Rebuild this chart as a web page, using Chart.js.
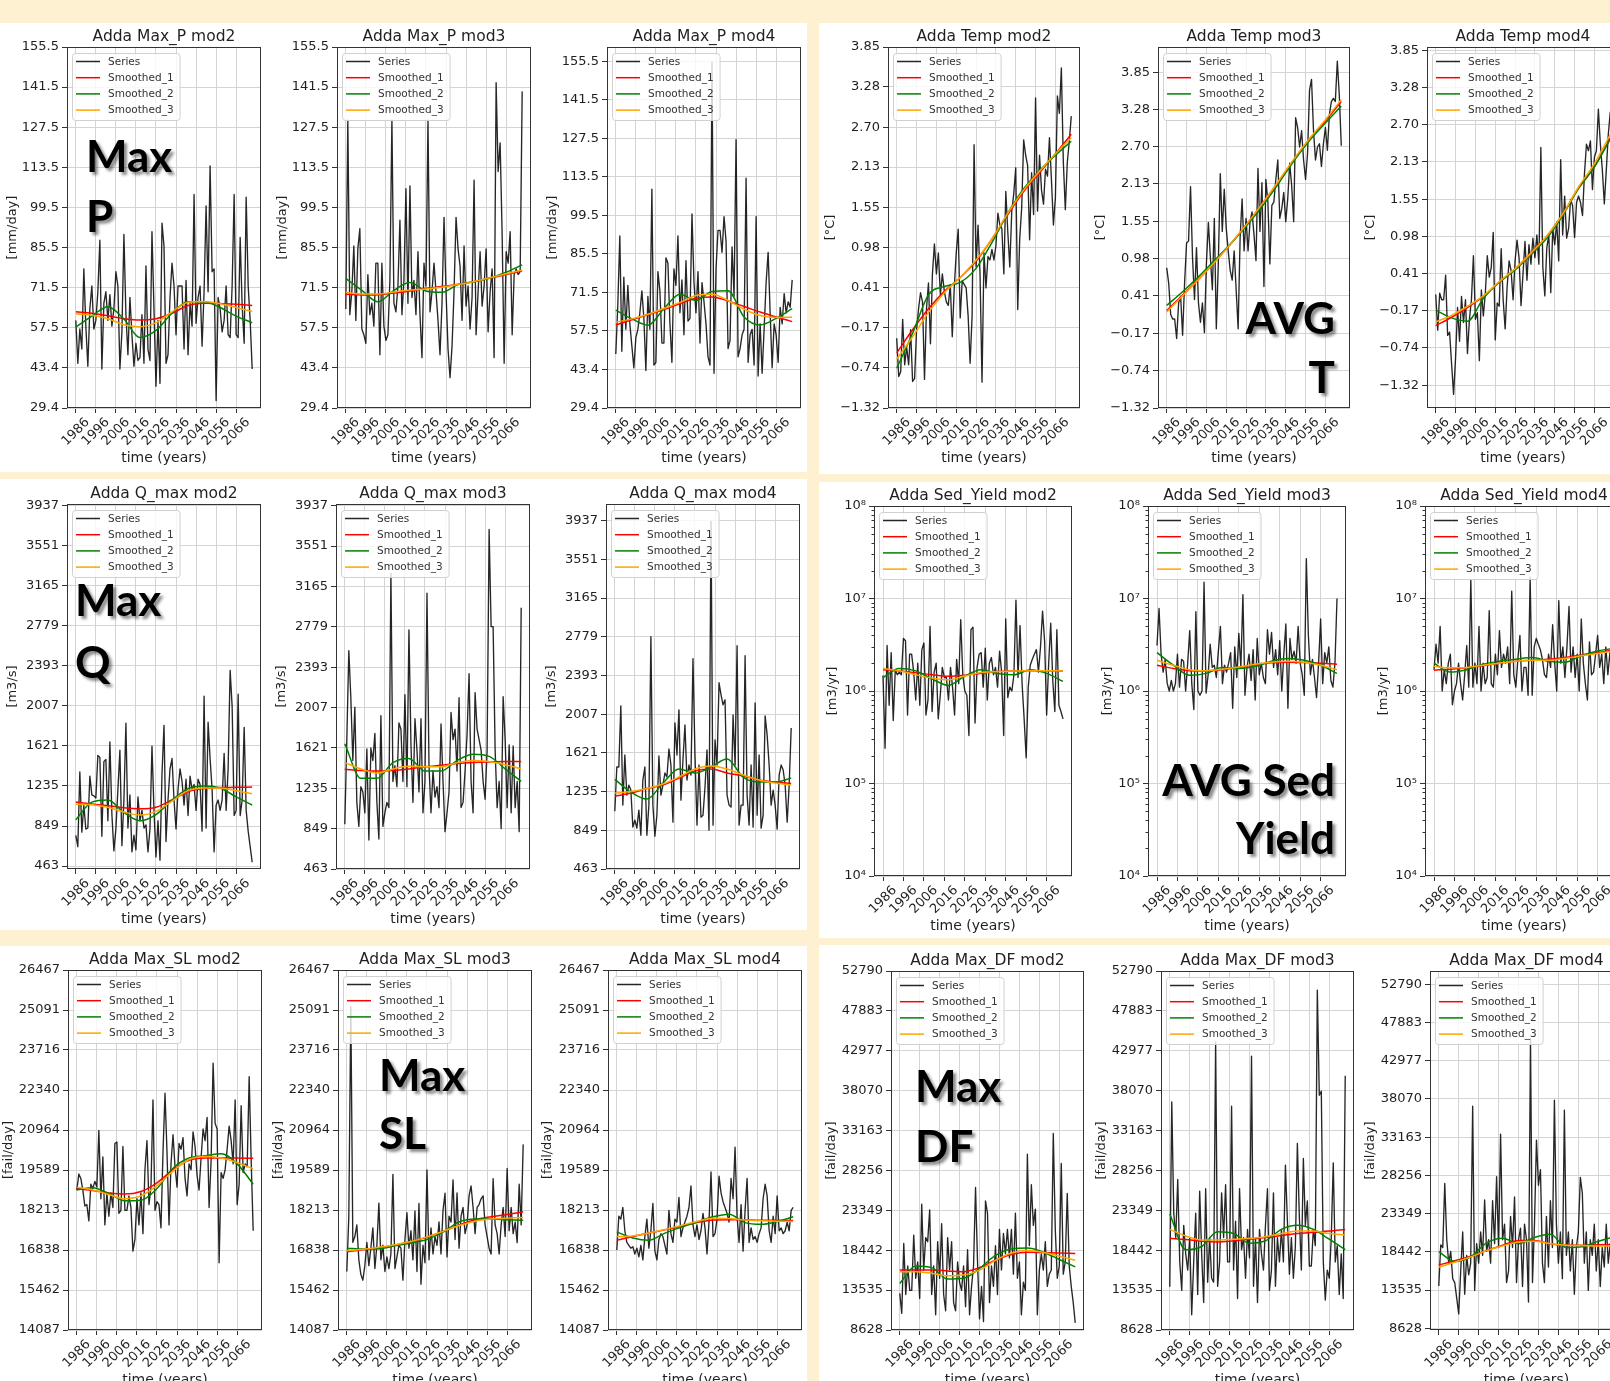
<!DOCTYPE html>
<html>
<head>
<meta charset="utf-8">
<script src="https://cdn.jsdelivr.net/npm/chart.js@4.4.1/dist/chart.umd.min.js"></script>
<style>
  html, body { margin: 0; padding: 0; }
  body { width: 1610px; height: 1381px; position: relative; overflow: hidden; background: #fdf1d2; font-family: "DejaVu Sans", sans-serif; }
  .sheet { position: absolute; background: #fff; }
  canvas { position: absolute; }
  .big { position: absolute; z-index: 5; font-family: Lato, "Open Sans", sans-serif; font-weight: 700; font-size: 44px; color: #000; text-shadow: 3px 3px 3px rgba(0,0,0,0.45); white-space: nowrap; }
</style>
</head>
<body>
<div class="sheet" style="left:0;top:23px;width:807px;height:449px"></div>
<div class="sheet" style="left:0;top:479px;width:807px;height:451px"></div>
<div class="sheet" style="left:0;top:946px;width:807px;height:435px"></div>
<div class="sheet" style="left:819px;top:23px;width:791px;height:451px"></div>
<div class="sheet" style="left:819px;top:482px;width:791px;height:456px"></div>
<div class="sheet" style="left:819px;top:945px;width:791px;height:436px"></div>

<div class="big" style="left:86px;top:125px;line-height:60px">Max<br>P</div>
<div class="big" style="right:275px;top:288px;line-height:59px;text-align:right">AVG<br>T</div>
<div class="big" style="left:75px;top:568px;line-height:62px">Max<br>Q</div>
<div class="big" style="right:275px;top:750px;line-height:58px;text-align:right">AVG Sed<br>Yield</div>
<div class="big" style="left:379px;top:1045px;line-height:58px">Max<br>SL</div>
<div class="big" style="left:915px;top:1055px;line-height:60px">Max<br>DF</div>

<script>
// ---- data ----
const START_YEAR = 1986;
const SMOOTH_YEARS = [1986, 1994, 2002, 2010, 2018, 2026, 2034, 2042, 2050, 2058, 2066, 2074];
const X_TICKS = [1986, 1996, 2006, 2016, 2026, 2036, 2046, 2056, 2066];
const LEGEND_LABELS = ['Series', 'Smoothed_1', 'Smoothed_2', 'Smoothed_3'];

const P_TICKS = [29.4, 43.4, 57.5, 71.5, 85.5, 99.5, 113.5, 127.5, 141.5, 155.5];
const P_TICK_LABELS = ['29.4', '43.4', '57.5', '71.5', '85.5', '99.5', '113.5', '127.5', '141.5', '155.5'];
const T_TICKS = [-1.32, -0.74, -0.17, 0.41, 0.98, 1.55, 2.13, 2.70, 3.28, 3.85];
const T_TICK_LABELS = ['\u22121.32', '\u22120.74', '\u22120.17', '0.41', '0.98', '1.55', '2.13', '2.70', '3.28', '3.85'];
const Q_TICKS = [463, 849, 1235, 1621, 2007, 2393, 2779, 3165, 3551, 3937];
const SED_TICKS = [1e4, 1e5, 1e6, 1e7, 1e8];
const SED_TICK_LABELS = ['10\u2074', '10\u2075', '10\u2076', '10\u2077', '10\u2078'];
const SL_TICKS = [14087, 15462, 16838, 18213, 19589, 20964, 22340, 23716, 25091, 26467];
const DF_TICKS = [8628, 13535, 18442, 23349, 28256, 33163, 38070, 42977, 47883, 52790];

// Max_P
const P2 = [60, 45, 57, 50, 78, 58, 44, 64, 72, 57,
  60, 70, 88, 43, 66, 70, 60, 69, 58, 64,
  77, 72, 43, 56, 90, 62, 48, 68, 55, 44,
  52, 46, 47, 62, 45, 79, 50, 46, 91, 64,
  37, 60, 38, 94, 86, 45, 48, 68, 80, 72,
  55, 72, 72, 72, 50, 74, 48, 66, 58, 104,
  59, 68, 72, 51, 70, 100, 70, 114, 77, 78,
  32, 68, 64, 56, 60, 72, 55, 54, 72, 104,
  55, 54, 89, 65, 52, 103, 72, 60, 43];
const P2_S1 = [63, 62.5, 61.6, 60.6, 60.1, 60.6, 62.5, 65.2, 66, 65.9, 65.6, 65.2];
const P2_S2 = [57.7, 61.5, 64.8, 60.5, 54, 56.5, 62.5, 66.5, 66.5, 64.5, 61.5, 59.2];
const P2_S3 = [62.3, 61.8, 60.6, 58.5, 57.8, 59.2, 63, 66.3, 66.6, 65.8, 64.5, 63.1];

const P3 = [64, 130, 62, 70, 86, 60, 85, 92, 57, 55,
  52, 76, 62, 66, 58, 80, 80, 48, 80, 58,
  53, 55, 74, 130, 66, 63, 72, 95, 62, 74,
  106, 66, 107, 68, 74, 62, 84, 62, 47, 80,
  72, 130, 63, 70, 80, 70, 60, 48, 66, 96,
  70, 50, 40, 51, 70, 96, 85, 79, 60, 86,
  65, 72, 57, 68, 109, 55, 70, 84, 65, 72,
  85, 56, 70, 78, 47, 143, 112, 122, 90, 45,
  84, 80, 91, 55, 76, 78, 76, 77, 140];
const P3_S1 = [69.1, 68.9, 69, 69.6, 70.3, 71.2, 71.8, 72.6, 73.6, 74.8, 76, 77.3];
const P3_S2 = [74.7, 70.5, 66.5, 70.5, 73.2, 70.3, 69.8, 72.5, 73.5, 74.8, 76.8, 79.4];
const P3_S3 = [69.8, 69.2, 69.2, 69.9, 70.6, 71, 71.6, 72.5, 73.6, 74.9, 76.3, 77.6];

const P4 = [49, 67, 92, 50, 77, 58, 74, 60, 52, 44,
  55, 58, 64, 72, 62, 43, 70, 58, 109, 45,
  46, 79, 72, 53, 53, 84, 82, 60, 46, 80,
  74, 92, 64, 76, 56, 83, 61, 62, 100, 75,
  64, 79, 53, 75, 68, 60, 48, 45, 155, 42,
  80, 94, 94, 86, 99, 90, 51, 54, 88, 70,
  127, 48, 51, 56, 58, 113, 46, 56, 58, 45,
  99, 41, 60, 42, 58, 75, 86, 64, 44, 60,
  56, 46, 66, 60, 71, 64, 68, 66, 76];
const P4_S1 = [59.6, 61.5, 63.3, 65.2, 67.3, 69.3, 69.8, 68.3, 66.3, 64.3, 62.5, 60.8];
const P4_S2 = [65, 61.8, 59.5, 65.5, 70.8, 68.5, 71.8, 72, 62.5, 59.6, 62, 65.5];
const P4_S3 = [60.6, 61.8, 63.5, 65.6, 67.8, 70.3, 70.8, 68.5, 65.3, 63, 62.3, 62.4];

// Temp
const T2 = [-0.32, -0.87, -0.8, -0.05, -0.7, -0.45, -0.7, -0.2, -0.94, -0.9,
  -0.2, 0.1, 0.33, 0.2, -0.91, 0.1, 0.47, -0.4, 0.6, 1.03,
  0.6, 0.9, 0.3, 0.6, 0.35, 0.2, 0.15, 0.45, -0.3, 0.4,
  0.9, 1.24, -0.03, 0.5, 0.45, 0.4, 0.0, -0.68, 0.0, 2.45,
  0.7, 1.3, 0.6, -0.95, 0.9, 0.4, 0.85, 0.8, 0.95, 0.8,
  1.0, 1.47, 1.3, 1.25, 0.6, 1.78, 1.2, 0.7, 1.5, 1.75,
  2.12, 0.09, 1.1, 1.55, 2.52, 2.3, 2.15, 1.09, 2.05, 1.45,
  3.12, 1.5, 2.3, 1.8, 1.6, 2.1, 2.0, 2.55, 1.95, 1.3,
  1.7, 3.15, 2.9, 3.55, 2.2, 1.52, 2.2, 2.5, 2.86];
const T2_S1 = [-0.53, -0.2, 0.1, 0.35, 0.55, 0.78, 1.1, 1.45, 1.78, 2.05, 2.32, 2.6];
const T2_S2 = [-0.75, -0.25, 0.3, 0.42, 0.48, 0.68, 1.05, 1.47, 1.82, 2.08, 2.3, 2.5];
const T2_S3 = [-0.62, -0.3, 0.05, 0.33, 0.55, 0.8, 1.1, 1.47, 1.8, 2.07, 2.32, 2.55];

const T3 = [0.84, 0.6, 0.12, 0.05, 0.05, -0.25, 0.3, 0.4, -0.2, 0.6,
  1.22, 1.25, 2.09, 1.0, 0.35, 1.15, 0.3, 0.0, 0.3, -0.16,
  0.9, 1.54, 1.0, 0.5, 1.6, -0.1, 0.9, 2.29, 1.4, 2.05,
  1.45, 1.1, 0.8, 0.65, 1.1, 0.5, -0.1, 1.3, 1.9, 1.1,
  1.6, 1.1, 1.55, 1.7, 1.35, 0.95, 2.37, 1.4, 2.15, 0.55,
  2.2, 1.85, 0.9, 1.8, 1.85, 2.2, 2.5, 1.6, 1.75, 2.0,
  1.55, 1.9, 2.45, 2.1, 1.55, 3.15, 3.0, 2.7, 2.95, 2.5,
  2.2, 2.6, 3.58, 3.74, 2.95, 2.5, 2.7, 2.75, 2.4, 2.75,
  3.0, 2.65, 3.2, 3.4, 3.45, 3.4, 4.02, 3.5, 2.72];
const T3_S1 = [0.18, 0.42, 0.66, 0.92, 1.2, 1.5, 1.82, 2.15, 2.5, 2.82, 3.1, 3.4];
const T3_S2 = [0.26, 0.47, 0.7, 0.95, 1.2, 1.48, 1.78, 2.12, 2.48, 2.8, 3.07, 3.33];
const T3_S3 = [0.16, 0.41, 0.66, 0.92, 1.2, 1.5, 1.82, 2.16, 2.51, 2.83, 3.12, 3.43];

const T4 = [0.08, -0.47, 0.1, 0.0, 0.0, 0.38, -0.55, -0.5, -0.99, -1.46,
  -0.9, -0.12, -0.64, 0.05, -0.35, 0.0, -0.83, -0.3, 0.0, 0.68,
  -0.3, -0.2, -0.94, 0.15, -0.25, 0.1, 0.68, 0.35, 0.5, 1.04,
  -0.62, -0.05, -0.1, 0.79, 0.0, -0.45, 0.2, 0.6, 0.45, 0.0,
  0.6, 0.92, 0.65, -0.09, 0.4, 0.9, 0.3, 0.85, 0.55, 0.95,
  0.65, 1.0, 0.55, 2.35, 0.5, 0.06, 0.8, 1.0, 0.11, 1.1,
  0.85, 1.2, 0.6, 2.16, 1.0, 1.6, 0.95, 1.1, 1.55, 1.45,
  0.96, 1.5, 1.6, 1.5, 1.3, 1.95, 2.4, 2.3, 2.45, 1.7,
  2.2, 2.3, 2.94, 2.4, 2.0, 1.48, 2.0, 2.55, 2.9];
const T4_S1 = [-0.4, -0.27, -0.12, 0.05, 0.27, 0.47, 0.72, 0.98, 1.32, 1.72, 2.05, 2.5];
const T4_S2 = [-0.16, -0.28, -0.33, 0.02, 0.27, 0.46, 0.7, 0.95, 1.3, 1.72, 2.05, 2.48];
const T4_S3 = [-0.34, -0.24, -0.1, 0.06, 0.28, 0.48, 0.72, 0.98, 1.32, 1.74, 2.1, 2.55];

// Q_max
const Q2 = [760, 650, 1370, 790, 1050, 820, 830, 1330, 1150, 1140,
  1120, 1530, 1510, 750, 1470, 1490, 900, 1660, 960, 610,
  820, 1200, 1580, 660, 1100, 1840, 830, 1150, 600, 760,
  620, 1130, 900, 1000, 830, 860, 600, 820, 1620, 1000,
  550, 900, 520, 1350, 1820, 700, 1100, 1400, 1500, 1100,
  820, 1200, 1400, 1280, 1050, 1300, 950, 1330, 1200, 1250,
  1000, 1300, 1250, 800, 2100, 830, 1850, 1500, 1200, 600,
  1050, 1100, 1000, 1100, 1550, 1000, 1400, 2350, 2000, 950,
  1000, 2120, 950, 1100, 1800, 1000, 800, 650, 500];
const Q2_S1 = [1080, 1062, 1045, 1025, 1015, 1030, 1100, 1180, 1210, 1220, 1222, 1225];
const Q2_S2 = [910, 1080, 1100, 980, 900, 960, 1100, 1210, 1235, 1215, 1130, 1050];
const Q2_S3 = [1060, 1055, 1030, 985, 955, 990, 1090, 1190, 1215, 1215, 1190, 1160];

const Q3 = [890, 1700, 2550, 2100, 1500, 2010, 1100, 870, 1250, 1200,
  1000, 1610, 740, 1620, 1500, 1760, 1100, 750, 1930, 870,
  1000, 1100, 1050, 3290, 1300, 1450, 1250, 1860, 1800, 1300,
  2130, 1250, 2750, 1650, 1100, 1900, 1600, 1200, 1900, 1000,
  1300, 3100, 1450, 1000, 1400, 1150, 1250, 1050, 1850, 1300,
  820, 1000, 1200, 1960, 1700, 1800, 1400, 2100, 1050, 1100,
  1400, 1750, 2330, 1300, 1000, 2150, 1800, 1700, 1600, 1300,
  1130, 1600, 3710, 2780, 2780, 1600, 1050, 1300, 850, 2110,
  1700, 1050, 1650, 1000, 1640, 1050, 1300, 820, 2960];
const Q3_S1 = [1416, 1405, 1400, 1405, 1420, 1440, 1455, 1472, 1482, 1487, 1490, 1490];
const Q3_S2 = [1660, 1330, 1330, 1480, 1520, 1400, 1400, 1500, 1560, 1540, 1420, 1300];
const Q3_S3 = [1480, 1420, 1380, 1420, 1445, 1440, 1440, 1480, 1500, 1490, 1460, 1420];

const Q4 = [1040, 1480, 1480, 2090, 1100, 1600, 1200, 1300, 1250, 880,
  950, 870, 1050, 800, 1350, 1480, 800, 1100, 2780, 1100,
  790, 1000, 1590, 1200, 1300, 1420, 1380, 1660, 1500, 930,
  1920, 1600, 2050, 1150, 1550, 1900, 1350, 1500, 1400, 2560,
  1600, 900, 1500, 980, 1000, 1280, 1650, 850, 3930, 900,
  1750, 1500, 2320, 2200, 2100, 2150, 1200, 1100, 1080, 2000,
  1500, 2690, 900, 1100, 1100, 2590, 1200, 900, 1500, 880,
  2120, 1000, 1600, 870, 1000, 1990, 1800, 1500, 1100, 1250,
  1100, 860, 1400, 1500, 1450, 1300, 930, 1300, 1870];
const Q4_S1 = [1190, 1220, 1265, 1300, 1370, 1440, 1460, 1420, 1390, 1350, 1330, 1315];
const Q4_S2 = [1357, 1230, 1160, 1320, 1460, 1420, 1480, 1560, 1380, 1330, 1330, 1370];
const Q4_S3 = [1220, 1235, 1265, 1310, 1380, 1460, 1490, 1460, 1400, 1350, 1320, 1300];

// Sed_Yield (log axis)
const SED2 = [1.47e6, 2.4e5, 3.1e6, 7e5, 2.6e6, 4.8e5, 1.7e6, 1.5e6, 1.6e6, 1.5e6,
  3.7e6, 3.5e6, 5.5e5, 2.5e6, 2.5e6, 1.6e6, 8e5, 2.0e6, 7e5, 2.8e6,
  3.3e6, 5.5e5, 8e5, 5e6, 6e5, 1.6e6, 2e6, 5e5, 9e5, 1.8e6,
  1.4e6, 1.4e6, 8e5, 1.8e6, 1.1e6, 5.5e5, 2.2e6, 1.2e6, 5.9e6, 1.5e6,
  1.0e6, 9e5, 3.3e5, 4.6e6, 4.9e6, 4.5e5, 1.8e6, 2.5e6, 2.6e6, 1.1e6,
  2.9e6, 8e5, 2.0e6, 2.3e6, 1.5e6, 1.8e6, 1.1e6, 2.7e6, 1.6e6, 3.3e5,
  6e6, 8.5e5, 1.1e6, 1.0e6, 1.5e6, 9.6e6, 1.4e6, 5.1e6, 1.2e6, 5e5,
  1.9e5, 1.1e6, 1.9e6, 2.2e6, 2.5e6, 2.8e6, 1.6e6, 3e6, 7.3e6, 3.5e6,
  5.5e5, 2.0e6, 5.4e6, 1.3e6, 6e5, 4.6e6, 7e5, 6e5, 5e5];
const SED2_S1 = [1.7e6, 1.65e6, 1.58e6, 1.5e6, 1.44e6, 1.48e6, 1.56e6, 1.62e6, 1.65e6, 1.66e6, 1.66e6, 1.65e6];
const SED2_S2 = [1.4e6, 1.75e6, 1.65e6, 1.35e6, 1.15e6, 1.45e6, 1.7e6, 1.55e6, 1.5e6, 1.7e6, 1.55e6, 1.27e6];
const SED2_S3 = [1.75e6, 1.65e6, 1.5e6, 1.38e6, 1.32e6, 1.45e6, 1.58e6, 1.62e6, 1.65e6, 1.66e6, 1.66e6, 1.65e6];

const SED3 = [3.1e6, 7.8e6, 2.5e6, 1.6e6, 2.2e6, 1.2e6, 1.0e6, 1.3e6, 1.0e6, 1.2e6,
  2.5e6, 1.1e6, 2.2e6, 2.1e6, 1.0e6, 2.0e6, 4.5e6, 1.2e6, 6.3e5, 7.2e6,
  1.0e6, 9e5, 1.0e6, 1.5e7, 9.5e5, 1.5e6, 3.2e6, 1.8e6, 1.9e6, 1.4e6,
  2.7e6, 5e6, 1.2e6, 1.9e6, 1.6e6, 2.0e6, 2.6e6, 6.5e5, 3e6, 1.4e6,
  4.2e6, 1.8e6, 1.1e7, 9e5, 1.8e6, 2.5e6, 1.3e6, 2.8e6, 8e5, 3.7e6,
  1.5e6, 2.0e6, 1.4e6, 1.2e6, 4.6e6, 2.5e6, 4.3e6, 1.8e6, 2.8e6, 1.5e6,
  3.5e6, 1.0e6, 2.5e6, 5.3e6, 6.5e5, 3.7e6, 2.2e6, 2.7e6, 2.0e6, 5.0e6,
  2.0e6, 1.5e6, 9e5, 2.7e7, 4e6, 1.5e6, 2.2e6, 1.4e6, 8.5e5, 2.0e6,
  6e6, 1.2e6, 2.6e6, 2.0e6, 3e6, 1.3e6, 1.1e6, 2.0e6, 1.0e7];
const SED3_S1 = [1.9e6, 1.75e6, 1.66e6, 1.65e6, 1.7e6, 1.8e6, 1.92e6, 2.02e6, 2.05e6, 2.03e6, 2e6, 1.95e6];
const SED3_S2 = [2.6e6, 1.9e6, 1.48e6, 1.55e6, 1.8e6, 1.75e6, 1.85e6, 2.1e6, 2.25e6, 2.15e6, 1.9e6, 1.55e6];
const SED3_S3 = [2.15e6, 1.9e6, 1.7e6, 1.66e6, 1.72e6, 1.82e6, 1.95e6, 2.05e6, 2.1e6, 2.05e6, 1.9e6, 1.7e6];

const SED4 = [1.7e6, 3.2e6, 2.0e6, 5.0e6, 1.0e6, 1.7e6, 1.2e6, 2.0e6, 2.5e6, 7.1e5,
  1.0e6, 1.2e6, 2.0e6, 1.2e6, 8e5, 1.5e6, 3.1e6, 1.1e6, 1.6e7, 1.1e6,
  2.0e6, 1.2e6, 5.0e6, 1.0e6, 2.0e6, 1.2e6, 1.4e6, 7.4e6, 1.2e6, 1.1e6,
  2.5e6, 1.5e6, 4.5e6, 1.8e6, 2.5e6, 2.0e6, 3e6, 1.2e6, 1.2e7, 1.5e6,
  1.1e6, 2.2e6, 4e6, 1.0e6, 1.8e6, 1.8e6, 9e5, 1.7e7, 9e5, 3e6,
  3.7e6, 3.2e6, 2.8e6, 2.2e6, 1.5e6, 1.4e6, 2.5e6, 1.8e6, 5.2e6, 2e6,
  1.0e6, 9.5e6, 2e6, 3e6, 1.4e6, 3e6, 8.2e6, 1.6e6, 3e6, 1.4e6,
  2.5e6, 1.0e6, 6e6, 2e6, 1.2e6, 8e5, 3.4e6, 1.5e6, 1.6e6, 2.5e6,
  4e6, 1.8e6, 2.5e6, 1.2e6, 3e6, 1.5e6, 2.6e6, 1.4e6, 2.2e6];
const SED4_S1 = [1.68e6, 1.72e6, 1.78e6, 1.88e6, 2.0e6, 2.1e6, 2.15e6, 2.2e6, 2.3e6, 2.45e6, 2.6e6, 2.8e6];
const SED4_S2 = [2.0e6, 1.6e6, 1.7e6, 1.95e6, 2.1e6, 2.2e6, 2.3e6, 2.1e6, 2.05e6, 2.4e6, 2.7e6, 2.9e6];
const SED4_S3 = [1.85e6, 1.78e6, 1.8e6, 1.9e6, 2.0e6, 2.1e6, 2.15e6, 2.15e6, 2.25e6, 2.4e6, 2.55e6, 2.7e6];

// Max_SL
const SL2 = [18900, 19450, 19300, 18900, 18350, 18400, 17840, 19100, 18950, 19200,
  19000, 20950, 18600, 20040, 17700, 18800, 18000, 18800, 18300, 20500,
  20550, 18100, 18200, 20400, 18200, 18200, 18700, 18300, 16800, 17200,
  18600, 17700, 18800, 17400, 19600, 20600, 18400, 19000, 22000, 18200,
  18500, 18400, 17600, 20200, 22230, 20200, 17700, 19800, 20800, 19700,
  19000, 20500, 20300, 20700, 19300, 18700, 19800, 19600, 20900, 20400,
  19400, 18900, 20000, 21000, 20600, 21400, 18300, 19900, 23260, 21200,
  21000, 16400, 19500, 19300, 19600, 20300, 21100, 20600, 19800, 22000,
  18400, 19100, 21800, 19500, 19800, 19700, 22800, 19900, 17500];
const SL2_S1 = [18950, 18880, 18800, 18760, 18850, 19150, 19600, 19920, 20000, 20000, 20000, 19990];
const SL2_S2 = [18900, 18980, 18780, 18530, 18550, 18950, 19650, 20000, 20080, 20150, 19800, 19100];
const SL2_S3 = [19000, 18900, 18750, 18600, 18700, 19050, 19550, 19950, 20050, 20000, 19850, 19630];

const SL3 = [16100, 18000, 25200, 17100, 17300, 17700, 16500, 16000, 15800, 16300,
  17100, 16300, 16900, 17600, 16200, 17000, 18450, 16500, 17000, 16100,
  16600, 16200, 16700, 19440, 16200, 16600, 17000, 16900, 15800, 17200,
  18120, 16900, 17500, 16500, 18180, 16100, 18440, 15660, 17000, 16400,
  19590, 16500, 17600, 16700, 17300, 17000, 17800, 16700, 18200, 18790,
  16600, 18000, 17800, 19250, 17200, 18800, 16900, 18000, 18300, 17400,
  17700, 18700, 19040, 18300, 17400, 18300, 18400, 18600, 18700, 17700,
  17300, 16900, 16700, 19290, 17700, 17400, 16700, 17700, 18300, 17300,
  19640, 17500, 18300, 17400, 17800, 17090, 19100, 17700, 20470];
const SL3_S1 = [16780, 16850, 16920, 17010, 17120, 17280, 17480, 17700, 17880, 17980, 18060, 18150];
const SL3_S2 = [16900, 16870, 16880, 16980, 17080, 17200, 17450, 17800, 17900, 17900, 17880, 17860];
const SL3_S3 = [16820, 16860, 16930, 17020, 17130, 17290, 17480, 17680, 17830, 17900, 17930, 17960];

const SL4 = [16840, 18000, 17900, 18300, 17500, 17100, 17000, 16900, 16950, 16700,
  16900, 16600, 17000, 16500, 17300, 17900, 16900, 17500, 18440, 16800,
  16500, 17200, 17400, 17300, 17000, 16700, 18200, 17400, 17100, 17900,
  17800, 18650, 17300, 17600, 17800, 18000, 18300, 19040, 17700, 17300,
  17700, 17200, 17500, 18100, 17600, 16700, 17800, 19520, 17300, 17400,
  17900, 19380, 18800, 18500, 18300, 18100, 17800, 19300, 18600, 20370,
  18000, 17100, 18400, 16800, 18200, 19300, 17100, 17600, 17200, 17300,
  17100, 17400, 17600, 18600, 19100, 18700, 17500, 17100, 18000, 17400,
  18700, 17500, 17600, 17400, 17500, 17800, 17500, 18200, 18300];
const SL4_S1 = [17170, 17300, 17420, 17530, 17650, 17780, 17870, 17880, 17870, 17860, 17860, 17850];
const SL4_S2 = [17460, 17250, 17170, 17420, 17620, 17800, 17980, 18070, 17780, 17720, 17820, 17980];
const SL4_S3 = [17300, 17320, 17420, 17540, 17680, 17820, 17930, 17920, 17870, 17840, 17830, 17820];

// Max_DF
const DF2 = [13130, 10680, 19280, 13000, 16500, 13500, 13500, 20300, 15000, 17000,
  12500, 24110, 16000, 20000, 19500, 23400, 13000, 16500, 10500, 19500,
  15000, 21700, 13000, 11000, 20000, 16000, 19500, 12000, 11000, 17000,
  14500, 13500, 16500, 11500, 18500, 10500, 14000, 16500, 26160, 17000,
  10000, 14000, 9660, 24520, 23000, 12000, 16500, 14000, 19000, 13000,
  21000, 16000, 20500, 18000, 21000, 17500, 21000, 15500, 23000, 15000,
  17000, 10500, 14500, 13500, 30260, 19000, 26500, 21500, 23500, 10500,
  16000, 18000, 16000, 19500, 14000, 15500, 16000, 32800, 21000, 15000,
  16500, 29110, 15500, 17000, 25430, 16500, 14000, 12000, 9500];
const DF2_S1 = [16000, 16000, 16000, 15900, 15800, 16300, 17200, 17900, 18200, 18150, 18100, 18050];
const DF2_S2 = [14360, 16500, 16300, 14900, 15000, 16200, 17800, 18600, 18700, 18200, 17300, 16400];
const DF2_S3 = [15800, 15800, 15600, 15300, 15400, 16000, 17200, 18100, 18400, 18200, 17700, 17200];

const DF3 = [13950, 36690, 23000, 20000, 27150, 17000, 13500, 21500, 18000, 16000,
  20000, 10500, 17000, 23000, 13000, 25710, 18000, 12000, 26000, 14500,
  20000, 15000, 14500, 44060, 14000, 17000, 25500, 20000, 26500, 17000,
  17000, 36160, 16000, 22000, 12500, 26000, 18500, 20000, 15000, 21000,
  17500, 42300, 14000, 20000, 12000, 21000, 18000, 16000, 21500, 26000,
  13500, 16000, 25500, 14000, 20000, 17000, 21000, 17000, 28910, 22000,
  15500, 20000, 15000, 19000, 31570, 22500, 16000, 29730, 21500, 24500,
  16500, 16500, 21000, 19000, 50420, 37500, 38000, 17000, 12310, 16000,
  15000, 20000, 29190, 17000, 19000, 13000, 18000, 12500, 39890];
const DF3_S1 = [19900, 19750, 19550, 19450, 19600, 19800, 20000, 20250, 20500, 20650, 20800, 21000];
const DF3_S2 = [22900, 18500, 18900, 20700, 20500, 19300, 19600, 21000, 21500, 21000, 19800, 18500];
const DF3_S3 = [21000, 20200, 19700, 19700, 19800, 19900, 20100, 20500, 20800, 20800, 20500, 20300];

const DF4 = [14070, 19330, 19000, 27230, 20000, 17000, 18500, 15000, 14500, 12500,
  10480, 16000, 21000, 13000, 18000, 15500, 17000, 37150, 13500, 19500,
  17000, 21000, 18000, 25100, 18500, 20000, 17000, 25000, 19500, 28090,
  19000, 33560, 20000, 22000, 14500, 16000, 23000, 19000, 25500, 14500,
  20000, 21500, 14000, 22000, 20000, 12000, 45820, 14500, 22000, 32790,
  27000, 29000, 17000, 14500, 23000, 16500, 25000, 19000, 37920, 22000,
  17000, 21000, 15000, 36640, 18000, 21000, 16000, 20000, 13000, 19000,
  21000, 28000, 26000, 17000, 21000, 13500, 20000, 18000, 22000, 16000,
  20000, 14000, 19000, 16500, 22000, 17000, 19500, 18000, 20500];
const DF4_S1 = [16760, 17300, 17900, 18600, 19300, 19900, 19900, 19500, 19300, 19300, 19350, 19400];
const DF4_S2 = [18470, 17200, 17800, 19600, 20200, 19500, 20300, 20700, 19000, 19100, 19800, 20400];
const DF4_S3 = [16500, 17100, 17800, 18600, 19200, 19700, 19800, 19500, 19300, 19250, 19200, 19200];

// ---- panels ----
const PANELS = [
  { title: 'Adda Max_P mod2', ylab: '[mm/day]', s: P2, s1: P2_S1, s2: P2_S2, s3: P2_S3, ticks: P_TICKS, labels: P_TICK_LABELS, min: 29.4, max: 155.5 },
  { title: 'Adda Max_P mod3', ylab: '[mm/day]', s: P3, s1: P3_S1, s2: P3_S2, s3: P3_S3, ticks: P_TICKS, labels: P_TICK_LABELS, min: 29.4, max: 155.5 },
  { title: 'Adda Max_P mod4', ylab: '[mm/day]', s: P4, s1: P4_S1, s2: P4_S2, s3: P4_S3, ticks: P_TICKS, labels: P_TICK_LABELS, min: 29.4, max: 160.65 },
  { title: 'Adda Temp mod2', ylab: '[\u00b0C]', s: T2, s1: T2_S1, s2: T2_S2, s3: T2_S3, ticks: T_TICKS, labels: T_TICK_LABELS, min: -1.32, max: 3.85 },
  { title: 'Adda Temp mod3', ylab: '[\u00b0C]', s: T3, s1: T3_S1, s2: T3_S2, s3: T3_S3, ticks: T_TICKS, labels: T_TICK_LABELS, min: -1.32, max: 4.24 },
  { title: 'Adda Temp mod4', ylab: '[\u00b0C]', s: T4, s1: T4_S1, s2: T4_S2, s3: T4_S3, ticks: T_TICKS, labels: T_TICK_LABELS, min: -1.67, max: 3.90 },
  { title: 'Adda Q_max mod2', ylab: '[m3/s]', s: Q2, s1: Q2_S1, s2: Q2_S2, s3: Q2_S3, ticks: Q_TICKS, labels: Q_TICKS.map(String), min: 435, max: 3953 },
  { title: 'Adda Q_max mod3', ylab: '[m3/s]', s: Q3, s1: Q3_S1, s2: Q3_S2, s3: Q3_S3, ticks: Q_TICKS, labels: Q_TICKS.map(String), min: 463, max: 3953 },
  { title: 'Adda Q_max mod4', ylab: '[m3/s]', s: Q4, s1: Q4_S1, s2: Q4_S2, s3: Q4_S3, ticks: Q_TICKS, labels: Q_TICKS.map(String), min: 463, max: 4103 },
  { title: 'Adda Sed_Yield mod2', ylab: '[m3/yr]', s: SED2, s1: SED2_S1, s2: SED2_S2, s3: SED2_S3, ticks: SED_TICKS, labels: SED_TICK_LABELS, min: 1e4, max: 1e8, log: true },
  { title: 'Adda Sed_Yield mod3', ylab: '[m3/yr]', s: SED3, s1: SED3_S1, s2: SED3_S2, s3: SED3_S3, ticks: SED_TICKS, labels: SED_TICK_LABELS, min: 1e4, max: 1e8, log: true },
  { title: 'Adda Sed_Yield mod4', ylab: '[m3/yr]', s: SED4, s1: SED4_S1, s2: SED4_S2, s3: SED4_S3, ticks: SED_TICKS, labels: SED_TICK_LABELS, min: 1e4, max: 1e8, log: true },
  { title: 'Adda Max_SL mod2', ylab: '[fail/day]', s: SL2, s1: SL2_S1, s2: SL2_S2, s3: SL2_S3, ticks: SL_TICKS, labels: SL_TICKS.map(String), min: 14087, max: 26467 },
  { title: 'Adda Max_SL mod3', ylab: '[fail/day]', s: SL3, s1: SL3_S1, s2: SL3_S2, s3: SL3_S3, ticks: SL_TICKS, labels: SL_TICKS.map(String), min: 14087, max: 26467 },
  { title: 'Adda Max_SL mod4', ylab: '[fail/day]', s: SL4, s1: SL4_S1, s2: SL4_S2, s3: SL4_S3, ticks: SL_TICKS, labels: SL_TICKS.map(String), min: 14087, max: 26467 },
  { title: 'Adda Max_DF mod2', ylab: '[fail/day]', s: DF2, s1: DF2_S1, s2: DF2_S2, s3: DF2_S3, ticks: DF_TICKS, labels: DF_TICKS.map(String), min: 8628, max: 52790 },
  { title: 'Adda Max_DF mod3', ylab: '[fail/day]', s: DF3, s1: DF3_S1, s2: DF3_S2, s3: DF3_S3, ticks: DF_TICKS, labels: DF_TICKS.map(String), min: 8628, max: 52790 },
  { title: 'Adda Max_DF mod4', ylab: '[fail/day]', s: DF4, s1: DF4_S1, s2: DF4_S2, s3: DF4_S3, ticks: DF_TICKS, labels: DF_TICKS.map(String), min: 8414, max: 54500 }
];

// axes box on the page: left, top, width, height, y-label offset
const BOXES = [
  [67, 47, 194, 361, 54.5], [337, 47, 194, 361, 54.5], [607, 47, 194, 361, 54.5],
  [888, 47, 192, 361, 57], [1158, 47, 192, 361, 57], [1427, 47, 192, 361, 56],
  [67, 504, 194, 365, 54.5], [336, 504, 194, 365, 54.5], [606, 504, 194, 365, 54.5],
  [874, 506, 198, 370, 41], [1148, 506, 198, 370, 40.5], [1425, 506, 198, 370, 41],
  [68, 970, 194, 360, 59], [338, 970, 194, 360, 59], [608, 970, 194, 360, 60],
  [891, 971, 193, 359, 59], [1161, 971, 193, 359, 59], [1430, 971, 193, 359, 59]
];

const X_MIN = 1981.6, X_MAX = 2078.4;
const TEXT = '#1f1f1f';
const GRID = '#d4d4d4';
const LINE_COLORS = ['rgba(0,0,0,0.85)', '#ff0000', '#008000', '#ffa500'];
const FONT = '"DejaVu Sans", sans-serif';

Chart.defaults.font.family = FONT;

const decor = {
  id: 'decor',
  afterDatasetsDraw(chart, args, o) {
    const { ctx, chartArea: a } = chart;
    const xs = chart.scales.x, ys = chart.scales.y;
    ctx.save();

    // minor ticks on the log axis
    if (o.log) {
      ctx.strokeStyle = '#333';
      ctx.lineWidth = 1;
      for (let k = 4; k < 8; k++) {
        for (let m = 2; m < 10; m++) {
          const py = Math.round(ys.getPixelForValue(m * Math.pow(10, k))) + 0.5;
          ctx.beginPath();
          ctx.moveTo(a.left - 2.5, py);
          ctx.lineTo(a.left, py);
          ctx.stroke();
        }
      }
    }

    // legend box
    ctx.font = '10.5px ' + FONT;
    const tw = Math.max(...LEGEND_LABELS.map(t => ctx.measureText(t).width));
    const lx = a.left + 5, ly = a.top + 6, lw = 36 + tw + 6, lh = 67;
    ctx.beginPath();
    ctx.roundRect(lx + 0.5, ly + 0.5, lw, lh, 3);
    ctx.fillStyle = 'rgba(255,255,255,0.8)';
    ctx.fill();
    ctx.strokeStyle = '#d0d0d0';
    ctx.lineWidth = 1;
    ctx.stroke();
    LEGEND_LABELS.forEach((t, i) => {
      const y = ly + 8.5 + i * 16.2;
      ctx.strokeStyle = LINE_COLORS[i];
      ctx.lineWidth = 1.5;
      ctx.beginPath();
      ctx.moveTo(lx + 4, y);
      ctx.lineTo(lx + 28, y);
      ctx.stroke();
      ctx.fillStyle = '#333';
      ctx.textAlign = 'left';
      ctx.textBaseline = 'middle';
      ctx.fillText(t, lx + 36, y + 0.5);
    });

    // frame
    ctx.strokeStyle = '#333';
    ctx.lineWidth = 1;
    ctx.strokeRect(a.left + 0.5, a.top + 0.5, a.right - a.left - 1, a.bottom - a.top - 1);

    // title
    ctx.fillStyle = TEXT;
    ctx.font = '15.5px ' + FONT;
    ctx.textAlign = 'center';
    ctx.textBaseline = 'alphabetic';
    ctx.fillText(o.title, (a.left + a.right) / 2, a.top - 6.5);

    // rotated year labels
    ctx.font = '13px ' + FONT;
    ctx.textBaseline = 'middle';
    X_TICKS.forEach(t => {
      const px = xs.getPixelForValue(t);
      ctx.save();
      ctx.translate(px, a.bottom + 24);
      ctx.rotate(-Math.PI / 4);
      ctx.fillText(String(t), 0, 0);
      ctx.restore();
    });

    // axis titles
    ctx.font = '14px ' + FONT;
    ctx.fillText('time (years)', (a.left + a.right) / 2, a.bottom + 50);
    ctx.font = '13px ' + FONT;
    ctx.save();
    ctx.translate(a.left - o.yOff, (a.top + a.bottom) / 2);
    ctx.rotate(-Math.PI / 2);
    ctx.fillText(o.ylab, 0, 0);
    ctx.restore();

    ctx.restore();
  }
};

function makeChart(p, box) {
  const [L, T, W, H, yOff] = box;
  const ML = 80, MT = 32, MR = 10, MB = 70;
  const cv = document.createElement('canvas');
  cv.width = W + ML + MR;
  cv.height = H + MT + MB;
  cv.style.left = (L - ML) + 'px';
  cv.style.top = (T - MT) + 'px';
  document.body.appendChild(cv);

  const series = p.s.map((v, i) => ({ x: START_YEAR + i, y: v }));
  const smooth = arr => SMOOTH_YEARS.map((x, i) => ({ x: x, y: arr[i] }));

  new Chart(cv.getContext('2d'), {
    type: 'line',
    data: {
      datasets: [
        { label: 'Series', data: series, borderColor: LINE_COLORS[0], borderWidth: 1.35, order: 4 },
        { label: 'Smoothed_1', data: smooth(p.s1), borderColor: LINE_COLORS[1], borderWidth: 1.5, cubicInterpolationMode: 'monotone', order: 3 },
        { label: 'Smoothed_2', data: smooth(p.s2), borderColor: LINE_COLORS[2], borderWidth: 1.5, cubicInterpolationMode: 'monotone', order: 2 },
        { label: 'Smoothed_3', data: smooth(p.s3), borderColor: LINE_COLORS[3], borderWidth: 1.5, cubicInterpolationMode: 'monotone', order: 1 }
      ]
    },
    options: {
      responsive: false,
      animation: false,
      events: [],
      layout: { padding: { top: MT, right: MR, left: 0, bottom: 0 } },
      elements: { point: { radius: 0 }, line: { tension: 0, borderJoinStyle: 'round', fill: false } },
      plugins: {
        legend: { display: false },
        tooltip: { enabled: false },
        decor: { title: p.title, ylab: p.ylab, yOff: yOff, log: !!p.log }
      },
      scales: {
        x: {
          type: 'linear', min: X_MIN, max: X_MAX,
          afterBuildTicks: s => { s.ticks = X_TICKS.map(v => ({ value: v })); },
          afterFit: s => { s.height = MB; },
          ticks: { display: false },
          grid: { color: GRID, tickColor: '#333', tickLength: 5 },
          border: { display: false }
        },
        y: {
          type: p.log ? 'logarithmic' : 'linear', min: p.min, max: p.max,
          afterBuildTicks: s => { s.ticks = p.ticks.map(v => ({ value: v })); },
          afterFit: s => { s.width = ML; },
          ticks: { autoSkip: false, padding: 3, color: TEXT, font: { size: 13 }, callback: (v, i) => p.labels[i] },
          grid: { color: GRID, tickColor: '#333', tickLength: 5 },
          border: { display: false }
        }
      }
    },
    plugins: [decor]
  });
}

PANELS.forEach((p, i) => makeChart(p, BOXES[i]));
</script>
</body>
</html>
